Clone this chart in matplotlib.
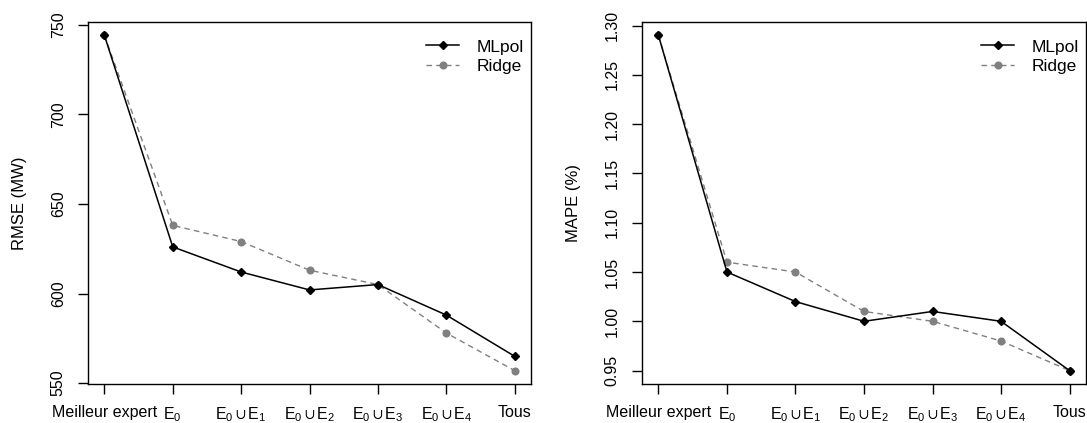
import matplotlib
matplotlib.use("Agg")
import matplotlib.pyplot as plt
import numpy as np

plt.rcParams['font.family'] = ['Liberation Sans', 'DejaVu Sans']
plt.rcParams['mathtext.fontset'] = 'custom'
plt.rcParams['mathtext.rm'] = 'Liberation Sans'
plt.rcParams['mathtext.it'] = 'Liberation Sans'
plt.rcParams['mathtext.fallback'] = 'stixsans'

categories = ["Meilleur expert", r"E$_0$", r"E$_0\cup$E$_1$", r"E$_0\cup$E$_2$",
              r"E$_0\cup$E$_3$", r"E$_0\cup$E$_4$", "Tous"]
rmse_mlpol = [744, 626, 612, 602, 605, 588, 565]
rmse_ridge = [744, 638, 629, 613, 605, 578, 557]
mape_mlpol = [1.29, 1.05, 1.02, 1.00, 1.01, 1.00, 0.95]
mape_ridge = [1.29, 1.06, 1.05, 1.01, 1.00, 0.98, 0.95]
rmse_ticks = [550, 600, 650, 700, 750]
mape_ticks = [0.95, 1.00, 1.05, 1.10, 1.15, 1.20, 1.25, 1.30]

W, H = 1087, 423
fig = plt.figure(figsize=(W / 100, H / 100), dpi=100)
FS = 11.5
GRAY = '#808080'

def rlim(vals):
    lo, hi = min(vals), max(vals)
    pad = 0.04 * (hi - lo)
    return lo - pad, hi + pad

def panel(rect, ml, rg, ticks, ylabel, fmt, ylab_x, wpx):
    ax = fig.add_axes(rect)
    x = np.arange(1, len(categories) + 1)
    ax.plot(x, ml, color='black', lw=1.1, marker='D', ms=4.2, label='MLpol', zorder=3)
    ax.plot(x, rg, color=GRAY, lw=1.0, ls=(0, (4, 3)), marker='o', ms=4.8,
            label='Ridge', zorder=2)
    ax.set_xlim(rlim(x))
    ax.set_ylim(rlim(list(ml) + list(rg)))
    ax.set_xticks(x)
    ax.set_xticklabels(categories, fontsize=FS)
    ax.set_yticks(ticks)
    ax.set_yticklabels([fmt(t) for t in ticks], fontsize=FS, rotation=90, va='center')
    ax.tick_params(axis='both', direction='out', length=7, width=1.0, color='black')
    ax.tick_params(axis='x', pad=8)
    ax.tick_params(axis='y', pad=9)
    for s in ax.spines.values():
        s.set_linewidth(1.0)
    ax.set_ylabel(ylabel, fontsize=FS + 0.5)
    ax.yaxis.set_label_coords(ylab_x, 0.5)
    ax.legend(loc='upper right', bbox_to_anchor=(1 + 10 / wpx, 1), frameon=False,
              fontsize=FS + 1, handlelength=1.9, handletextpad=1.0,
              labelspacing=0.27, borderaxespad=0.6)
    return ax

bottom = (H - 384) / H
height = (384 - 22) / H
panel([88 / W, bottom, (531 - 88) / W, height], rmse_mlpol, rmse_ridge, rmse_ticks,
      'RMSE (MW)', lambda t: f"{t:d}", (27 - 88) / (531 - 88), 531 - 88)
panel([642 / W, bottom, (1086 - 642) / W, height], mape_mlpol, mape_ridge, mape_ticks,
      'MAPE (%)', lambda t: f"{t:.2f}", (581 - 642) / (1086 - 642), 1086 - 642)

fig.savefig('out.png', dpi=100)
